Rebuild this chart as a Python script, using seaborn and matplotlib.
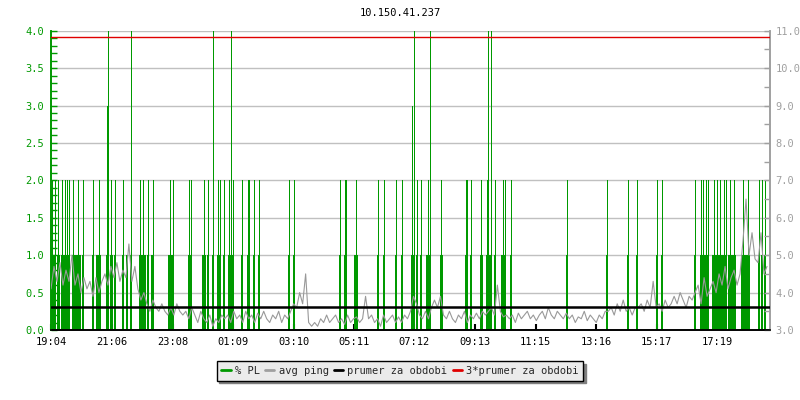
import numpy as np
import matplotlib
matplotlib.use("Agg")
import matplotlib.pyplot as plt
from matplotlib.lines import Line2D
from matplotlib.ticker import MultipleLocator, FormatStrFormatter
import seaborn as sns

# --- data (minutes since 19:04) ---
title = "10.150.41.237"
tick_minutes = [0, 122, 244, 365, 486, 607, 728, 849, 971, 1092, 1213, 1335]
tick_labels = ["19:04", "21:06", "23:08", "01:09", "03:10", "05:11",
               "07:12", "09:13", "11:15", "13:16", "15:17", "17:19"]

# packet loss events (% PL, left axis)
pl_minutes = [
    2, 8, 14, 22, 28, 32, 36, 44, 54, 64, 84, 96, 112, 114, 120, 128, 144, 160,
    178, 184, 194, 204, 238, 244, 276, 280, 306, 314, 324, 334, 338, 346, 356,
    360, 364, 382, 394, 396, 406, 416, 476, 486, 578, 588, 590, 610, 654, 666,
    690, 702, 724, 728, 734, 742, 756, 760, 782, 832, 834, 842, 862, 874, 876,
    882, 890, 906, 910, 922, 1034, 1114, 1156, 1174, 1214, 1224, 1290, 1302,
    1306, 1312, 1316, 1328, 1334, 1340, 1348, 1352, 1360, 1368, 1386, 1396,
    1418, 1424, 1430,
    # single-step losses
    4, 16, 24, 46, 48, 50, 52, 56, 58, 92, 98, 122, 152, 182, 188, 202, 236,
    240, 242, 304, 308, 608, 612, 726, 754, 784, 864, 878, 904, 1304, 1308,
    1310, 1314, 1326, 1330, 1332, 1336, 1342, 1344, 1346, 1350, 1358, 1362,
    1364, 1366, 1370, 1384, 1388, 1390, 1392, 1394, 1398,
]
pl_values = [
    2, 2, 2, 2, 2, 2, 2, 2, 2, 2, 2, 2, 3, 4, 2, 2, 2, 4,
    2, 2, 2, 2, 2, 2, 2, 2, 2, 2, 4, 2, 2, 2, 2,
    4, 2, 2, 2, 2, 2, 2, 2, 2, 2, 2, 2, 2, 2, 2,
    2, 2, 3, 4, 2, 2, 2, 4, 2, 2, 2, 2, 2, 2, 4,
    4, 2, 2, 2, 2, 2, 2, 2, 2, 2, 2, 2, 2,
    2, 2, 2, 2, 2, 2, 2, 2, 2, 2, 2, 2,
    2, 2, 2,
    1, 1, 1, 1, 1, 1, 1, 1, 1, 1, 1, 1, 1, 1, 1, 1, 1,
    1, 1, 1, 1, 1, 1, 1, 1, 1, 1, 1, 1, 1, 1,
    1, 1, 1, 1, 1, 1, 1, 1, 1, 1, 1, 1,
    1, 1, 1, 1, 1, 1, 1, 1, 1,
]

# average ping in ms (right axis), one sample every 6 minutes
ping_ms = [
    4.1, 4.7, 4.3, 4.8, 4.2, 4.6, 4.3, 5.0, 4.2, 4.5,
    4.0, 4.4, 4.1, 4.3, 3.9, 4.4, 4.0, 4.3, 4.5, 4.2,
    4.7, 4.4, 4.8, 4.3, 4.6, 4.4, 5.3, 4.3, 4.7, 4.1,
    3.8, 4.0, 3.7, 3.5, 3.8, 3.6, 3.5, 3.7, 3.5, 3.4,
    3.6, 3.4, 3.7, 3.5, 3.4, 3.5, 3.3, 3.6, 3.4, 3.2,
    3.5, 3.3, 3.2, 3.4, 3.1, 3.3, 3.2, 3.4, 3.3, 3.4,
    3.2, 3.5, 3.3, 3.4, 3.2, 3.5, 3.3, 3.4, 3.2, 3.45,
    3.3, 3.5, 3.3, 3.2, 3.4, 3.3, 3.5, 3.2, 3.4, 3.3,
    3.5, 3.7, 3.6, 4.0, 3.7, 4.5, 3.2, 3.1, 3.2, 3.1,
    3.3, 3.2, 3.4, 3.2, 3.3, 3.4, 3.2, 3.3, 3.15, 3.4,
    3.2, 3.3, 3.35, 3.2, 3.3, 3.9, 3.3, 3.4, 3.2, 3.3,
    3.1, 3.4, 3.2, 3.3, 3.4, 3.2, 3.35, 3.2, 3.4, 3.3,
    3.5, 3.9, 3.7, 3.4, 3.3, 3.5, 3.3, 3.6, 3.8, 3.6,
    3.9, 3.4, 3.3, 3.5, 3.3, 3.2, 3.4, 3.3, 3.5, 3.2,
    3.4, 3.3, 3.45, 3.3, 3.5, 3.4, 3.5, 3.6, 3.4, 4.2,
    3.5, 3.35, 3.4, 3.3, 3.4, 3.2, 3.45, 3.3, 3.4, 3.5,
    3.3, 3.4, 3.25, 3.4, 3.5, 3.3, 3.6, 3.4, 3.3, 3.5,
    3.4, 3.3, 3.45, 3.3, 3.4, 3.2, 3.35, 3.3, 3.5, 3.25,
    3.4, 3.3, 3.2, 3.4, 3.3, 3.5, 3.5, 3.6, 3.4, 3.7,
    3.5, 3.8, 3.5, 3.6, 3.4, 3.6, 3.6, 3.7, 3.5, 3.8,
    3.6, 4.3, 3.6, 3.7, 3.5, 3.8, 3.6, 3.7, 3.9, 3.7,
    4.0, 3.8, 3.6, 3.9, 3.8, 4.0, 4.2, 3.7, 4.4, 3.9,
    4.1, 4.3, 4.0, 4.5, 4.2, 4.7, 4.1, 4.4, 4.6, 4.2,
    4.5, 5.4, 6.5, 5.0, 5.6, 4.9, 4.8, 5.6, 4.5, 4.7,
]
ping_mean = 3.61

GREEN = "#009900"
GREY = "#999999"
MONO = "DejaVu Sans Mono"
PX = 0.72  # one pixel in points at 100 dpi

sns.set_theme(style="white")
plt.rcParams["font.family"] = [MONO]

# sample grid of the ping series: every 6 minutes from 19:04
ping_minutes = np.arange(len(ping_ms)) * 6

fig = plt.figure(figsize=(8, 4), dpi=100)
ax = fig.add_axes([51 / 800, 70 / 400, 719 / 800, 299.3 / 400])
ax2 = ax.twinx()

pl_min = np.array(pl_minutes)
pl_val = np.array(pl_values, dtype=float)
ax.vlines(pl_min, 0, pl_val, color=GREEN, linewidth=PX, antialiased=False, zorder=2)
ax.vlines(pl_min, 0, np.minimum(pl_val, 1.0), color=GREEN, linewidth=2 * PX,
          antialiased=False, zorder=2)

ax.set_xlim(0, 1440)
ax.set_ylim(0, 4.0)
ax.yaxis.set_major_locator(MultipleLocator(0.5))
ax.yaxis.set_minor_locator(MultipleLocator(0.1))
ax.yaxis.set_major_formatter(FormatStrFormatter("%.1f"))
ax.grid(axis="y", color="#c0c0c0", linewidth=1.0, zorder=0)
ax.grid(axis="x", visible=False)
ax.set_axisbelow(True)
ax.set_xticks(tick_minutes)
ax.set_xticklabels(tick_labels)
ax.tick_params(axis="y", which="both", direction="in", colors=GREEN,
               labelcolor=GREEN, length=4, width=1, labelsize=7.5, pad=5, left=True)
ax.tick_params(axis="x", direction="in", colors="black", length=4, width=1.5,
               labelsize=7.5, pad=5, bottom=True)

sns.lineplot(x=ping_minutes, y=ping_ms, ax=ax2, color=GREY, linewidth=0.8,
             zorder=3)
ax2.axhline(ping_mean, color="black", linewidth=1.8, zorder=4)
ax2.axhline(3 * ping_mean, color="#e00000", linewidth=1.0, zorder=4)
ax2.set_ylim(3.0, 11.0)
ax2.set_xlim(0, 1440)
ax2.yaxis.set_major_locator(MultipleLocator(1.0))
ax2.yaxis.set_minor_locator(MultipleLocator(0.5))
ax2.yaxis.set_major_formatter(FormatStrFormatter("%.1f"))
ax2.grid(False)
ax2.tick_params(axis="y", which="both", direction="in", colors="#a0a0a0",
                labelcolor="#a0a0a0", length=4, width=1, labelsize=7.5, pad=4,
                right=True)

for a in (ax, ax2):
    a.spines["top"].set_visible(False)
    a.spines["left"].set_color(GREEN)
    a.spines["right"].set_color("#a0a0a0")
    a.spines["bottom"].set_color("black")
    for s in a.spines.values():
        s.set_linewidth(1.2)

fig.text(0.5, 1 - 13 / 400, title, ha="center", va="center", fontsize=7.5,
         color="black")

handles = [
    Line2D([], [], color=GREEN, linewidth=2),
    Line2D([], [], color="#a0a0a0", linewidth=2),
    Line2D([], [], color="black", linewidth=2),
    Line2D([], [], color="#e00000", linewidth=2),
]
labels = ["% PL", "avg ping", "prumer za obdobi", "3*prumer za obdobi"]
leg = fig.legend(handles, labels, loc="center", bbox_to_anchor=(0.5, 1 - 371 / 400),
                 ncol=4, frameon=True, fancybox=False,
                 shadow={"color": "#808080", "alpha": 1.0},
                 facecolor="#ebebeb", edgecolor="black", framealpha=1,
                 fontsize=7.5, handlelength=0.9, handletextpad=0.4,
                 columnspacing=0.5, borderpad=0.45)
leg.get_frame().set_linewidth(1.0)

fig.savefig("out.png", dpi=100)
plt.close(fig)
